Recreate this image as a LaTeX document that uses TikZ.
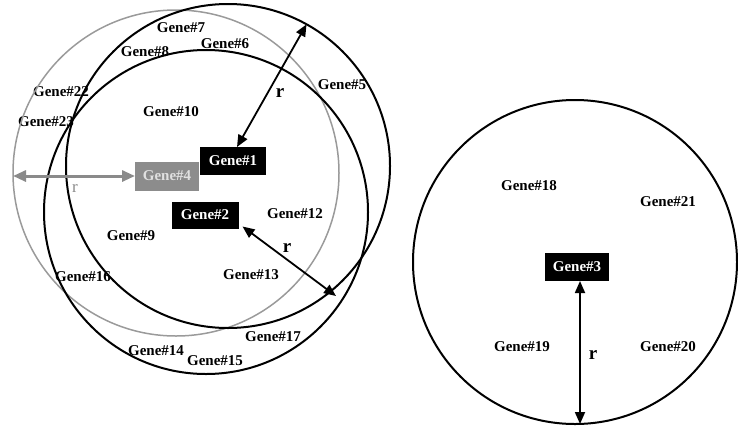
\documentclass[tikz,border=0pt]{standalone}
\usepackage{fontspec}
\setmainfont{Liberation Serif}
\usetikzlibrary{arrows.meta}
\definecolor{ringgray}{HTML}{9A9A9A}
\definecolor{boxgray}{HTML}{8C8C8C}
\definecolor{arrgray}{HTML}{8A8A8A}
\begin{document}
\begin{tikzpicture}[x=1pt,y=-1pt,
  lbl/.style={font=\fontsize{15}{15}\selectfont\bfseries, inner sep=0pt},
  rlbl/.style={font=\fontsize{19}{19}\selectfont\bfseries, inner sep=0pt},
  ring/.style={circle, draw=black, line width=2pt, minimum size=324pt, inner sep=0pt, outer sep=0pt},
  grayring/.style={ring, draw=ringgray, line width=1.5pt, minimum size=326pt},
  genebox/.style={fill=black, text=white, font=\fontsize{15}{15}\selectfont\bfseries, minimum width=66pt, minimum height=28pt, inner sep=0pt, outer sep=0pt},
  graybox/.style={genebox, fill=boxgray, text=white!88!black},
  dbl/.style={{Triangle[length=12pt,width=10pt]}-{Triangle[length=12pt,width=10pt]}, line width=1.8pt},
  graydbl/.style={{Triangle[length=13pt,width=11pt]}-{Triangle[length=13pt,width=11pt]}, line width=3pt, draw=arrgray, color=arrgray}
]
\useasboundingbox (0,0) rectangle (738,437);
% labels (drawn first so lines pass over them)
\node[lbl] (n7)  at (181,28)  {Gene\#7};
\node[lbl] (n8)  at (145,52)  {Gene\#8};
\node[lbl] (n6)  at (225,44)  {Gene\#6};
\node[lbl] (n5)  at (342,85)  {Gene\#5};
\node[lbl] (n22) at (61,92)   {Gene\#22};
\node[lbl] (n23) at (46,122)  {Gene\#23};
\node[lbl] (n10) at (171,112) {Gene\#10};
\node[lbl] (n12) at (295,214) {Gene\#12};
\node[lbl] (n9)  at (131,236) {Gene\#9};
\node[lbl] (n16) at (83,277)  {Gene\#16};
\node[lbl] (n13) at (251,275) {Gene\#13};
\node[lbl] (n17) at (273,337) {Gene\#17};
\node[lbl] (n14) at (156,351) {Gene\#14};
\node[lbl] (n15) at (215,361) {Gene\#15};
\node[lbl] (n18) at (529,186) {Gene\#18};
\node[lbl] (n21) at (668,202) {Gene\#21};
\node[lbl] (n19) at (522,347) {Gene\#19};
\node[lbl] (n20) at (668,347) {Gene\#20};
% circles
\node[grayring] (cG) at (176,173) {};
\node[ring] (cP) at (228,166) {};
\node[ring] (cQ) at (206,212) {};
\node[ring] (cR) at (575,262) {};
% boxes
\node[genebox] (g1) at (233,161) {Gene\#1};
\node[graybox, minimum width=64pt, minimum height=29pt] (g4) at (167,176) {Gene\#4};
\node[genebox, minimum width=67pt, minimum height=27pt] (g2) at (205,215) {Gene\#2};
\node[genebox, minimum width=64pt] (g3) at (577,267) {Gene\#3};
% radius arrows
\coordinate (e2) at (336,296);
\draw[dbl] ([xshift=4pt]g1.north) -- (cP.61);
\draw[dbl] ([xshift=4pt,yshift=2pt]g2.south east) -- (e2);
\draw[graydbl] (g4.west) -- (g4.west -| cG.west);
\draw[dbl] ([xshift=3pt]g3.south) -- ([xshift=3pt]g3.south |- cR.south);
% r labels
\node[rlbl] (r1) at (280,93) {r};
\node[rlbl] (r2) at (287,248) {r};
\node[rlbl] (r3) at (593,355) {r};
\node[font=\fontsize{17}{17}\selectfont, text=arrgray, inner sep=0pt] (r4) at (75,188) {r};
\end{tikzpicture}
\end{document}
